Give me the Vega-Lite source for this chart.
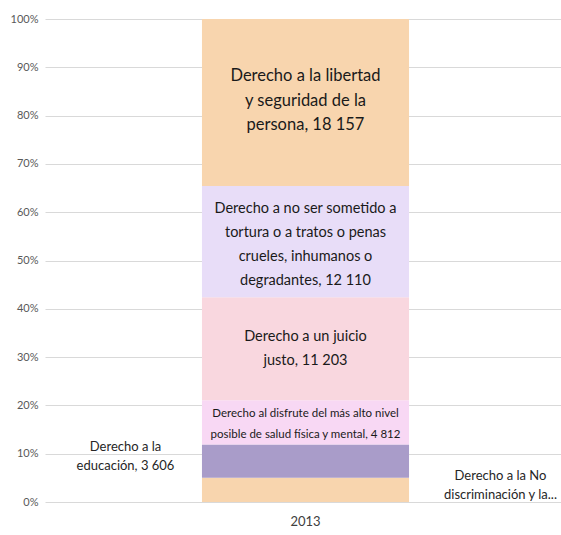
{
  "$schema": "https://vega.github.io/schema/vega-lite/v6.json",
  "autosize": {"type": "none"},
  "width": 521,
  "height": 483,
  "padding": {"left": 45, "top": 19, "right": 0, "bottom": 33},
  "background": "white",
  "config": {"view": {"stroke": null}, "font": "Lato"},
  "data": {"values": [
    {"year": "2013", "derecho": "No discriminación", "rank": 1, "valor": 2650, "label": "Derecho a la No\ndiscriminación  y la..."},
    {"year": "2013", "derecho": "Educación", "rank": 2, "valor": 3606, "label": "Derecho a la\neducación, 3 606"},
    {"year": "2013", "derecho": "Salud", "rank": 3, "valor": 4812, "label": "Derecho  al disfrute del más alto nivel\nposible de salud física y mental, 4 812"},
    {"year": "2013", "derecho": "Juicio justo", "rank": 4, "valor": 11203, "label": "Derecho a un juicio\njusto, 11 203"},
    {"year": "2013", "derecho": "Tortura", "rank": 5, "valor": 12110, "label": "Derecho a no ser sometido a\ntortura  o a tratos o penas\ncrueles, inhumanos o\ndegradantes, 12 110"},
    {"year": "2013", "derecho": "Libertad", "rank": 6, "valor": 18157, "label": "Derecho a la libertad\ny seguridad de la\npersona, 18 157"}
  ]},
  "encoding": {
    "x": {"field": "year", "type": "nominal", "title": null,
      "scale": {"paddingInner": 0, "paddingOuter": 0.758},
      "axis": {"domain": false, "ticks": false, "labelAngle": 0, "labelFontSize": 13, "labelColor": "#404040", "labelPadding": 13, "labelFont": "Lato"}},
    "y": {"field": "valor", "type": "quantitative", "stack": "normalize", "title": null,
      "scale": {"domain": [0, 1]},
      "axis": {"format": ".0%", "values": [0, 0.1, 0.2, 0.3, 0.4, 0.5, 0.6, 0.7, 0.8, 0.9, 1], "domain": false, "ticks": false, "gridColor": "#d9d9d9", "labelColor": "#595959", "labelFontSize": 11, "labelPadding": 7, "labelFont": "Lato"}},
    "order": {"field": "rank", "type": "quantitative"}
  },
  "layer": [
    {
      "mark": {"type": "bar"},
      "encoding": {
        "color": {"field": "derecho", "type": "nominal", "legend": null,
          "scale": {"domain": ["No discriminación", "Educación", "Salud", "Juicio justo", "Tortura", "Libertad"],
                    "range": ["#f8d5ae", "#a99cc9", "#f8d8f4", "#f9d7df", "#e8ddf8", "#f8d5ae"]}}
      }
    },
    {
      "mark": {"type": "text", "lineBreak": "\n", "fontSize": 16.5, "lineHeight": 24.5, "color": "#1a1a1a", "dy": -26},
      "encoding": {"y": {"field": "valor", "type": "quantitative", "stack": "normalize", "bandPosition": 0.5}, "text": {"condition": {"test": "datum.rank == 6", "field": "label"}, "value": ""}}
    },
    {
      "mark": {"type": "text", "lineBreak": "\n", "fontSize": 14.5, "lineHeight": 24, "color": "#1a1a1a", "dy": -33},
      "encoding": {"y": {"field": "valor", "type": "quantitative", "stack": "normalize", "bandPosition": 0.5}, "text": {"condition": {"test": "datum.rank == 5", "field": "label"}, "value": ""}}
    },
    {
      "mark": {"type": "text", "lineBreak": "\n", "fontSize": 14.5, "lineHeight": 24, "color": "#1a1a1a", "dy": -12},
      "encoding": {"y": {"field": "valor", "type": "quantitative", "stack": "normalize", "bandPosition": 0.5}, "text": {"condition": {"test": "datum.rank == 4", "field": "label"}, "value": ""}}
    },
    {
      "mark": {"type": "text", "lineBreak": "\n", "fontSize": 11.5, "lineHeight": 21, "color": "#1a1a1a", "dy": -8},
      "encoding": {"y": {"field": "valor", "type": "quantitative", "stack": "normalize", "bandPosition": 0.5}, "text": {"condition": {"test": "datum.rank == 3", "field": "label"}, "value": ""}}
    },
    {
      "mark": {"type": "text", "lineBreak": "\n", "fontSize": 13, "lineHeight": 19, "color": "#262626", "dx": -180, "dy": -14},
      "encoding": {"y": {"field": "valor", "type": "quantitative", "stack": "normalize", "bandPosition": 0.5}, "text": {"condition": {"test": "datum.rank == 2", "field": "label"}, "value": ""}}
    },
    {
      "mark": {"type": "text", "lineBreak": "\n", "fontSize": 13, "lineHeight": 19, "color": "#262626", "dx": 195, "dy": -14},
      "encoding": {"y": {"field": "valor", "type": "quantitative", "stack": "normalize", "bandPosition": 0.5}, "text": {"condition": {"test": "datum.rank == 1", "field": "label"}, "value": ""}}
    }
  ]
}
